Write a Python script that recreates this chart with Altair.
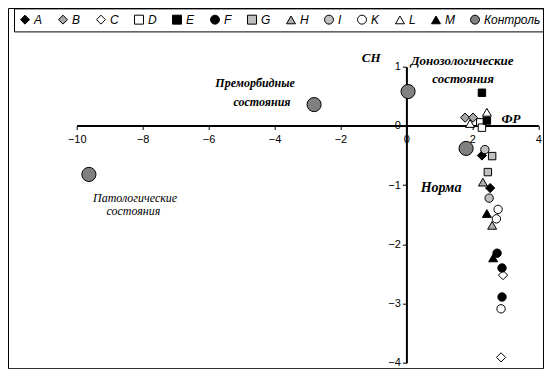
import altair as alt
import pandas as pd

# ---- data ----
series = ["A", "B", "C", "D", "E", "F", "G", "H", "I", "K", "L", "M", "Контроль"]
fr = [
    [2.29, 2.54],          # A
    [1.78, 2.02],          # B
    [2.93, 2.87],          # C
    [2.24, 2.29],          # D
    [2.29, 2.44],          # E
    [2.75, 2.90, 2.90],    # F
    [2.60, 2.47],          # G
    [2.32, 2.60],          # H
    [2.38, 2.51],          # I
    [2.78, 2.73, 2.87],    # K
    [1.93, 2.44],          # L
    [2.44, 2.63],          # M
    [-9.63, -2.80, 0.05, 1.81],  # Контроль
]
ch = [
    [-0.50, -1.05],
    [0.14, 0.14],
    [-2.52, -3.91],
    [0.06, -0.03],
    [0.56, 0.09],
    [-2.15, -2.40, -2.89],
    [-0.51, -0.78],
    [-0.95, -1.68],
    [-0.40, -1.22],
    [-1.41, -1.57, -3.09],
    [0.04, 0.23],
    [-1.48, -2.23],
    [-0.82, 0.36, 0.58, -0.38],
]
x_ticks = [-10, -8, -6, -4, -2, 0, 2, 4]
y_ticks = [-4, -3, -2, -1, 0, 1]

bold_text = ["СН", "Донозологические", "состояния", "ФР", "Преморбидные", "состояния", "Норма"]
bold_x = [-1.07, 1.69, 1.72, 3.17, -4.59, -4.38, 1.05]
bold_y = [1.155, 1.10, 0.80, 0.11, 0.72, 0.40, -1.05]
bold_size = [13, 13, 13, 13, 12, 12, 14]

plain_text = ["Патологические", "состояния"]
plain_x = [-8.23, -8.28]
plain_y = [-1.21, -1.44]
plain_size = [12, 12]

# ---- styles ----
fills = ["#000000", "#a6a6a6", "#ffffff", "#ffffff", "#000000", "#000000", "#c0c0c0",
         "#b0b0b0", "#c0c0c0", "#ffffff", "#ffffff", "#000000", "#808080"]
strokes = ["#000000"] * len(series)
shapes = ["diamond", "diamond", "diamond", "square", "square", "circle", "square",
          "triangle-up", "circle", "circle", "triangle-up", "triangle-up", "circle"]
sizes = [85, 85, 85, 55, 55, 70, 55, 80, 70, 70, 80, 80, 200]

rows = []
for s, xs, ys, sz in zip(series, fr, ch, sizes):
    for xv, yv in zip(xs, ys):
        rows.append({"series": s, "fr": xv, "ch": yv, "sz": sz})
df = pd.DataFrame(rows)

bold_df = pd.DataFrame({"t": bold_text, "x": bold_x, "y": bold_y, "s": bold_size})
plain_df = pd.DataFrame({"t": plain_text, "x": plain_x, "y": plain_y, "s": plain_size})

W, H = 461.6, 296
xsc = alt.Scale(domain=[-10, 4], nice=False, zero=False)
ysc = alt.Scale(domain=[-4, 1], nice=False, zero=False)

axis_common = dict(grid=False, title=None, domainColor="black", domainWidth=2,
                   tickColor="black", tickWidth=1, tickSize=4, labelColor="black",
                   labelFont="Liberation Sans", labelFontSize=11, labelFlush=False,
                   labelOverlap=False, format="d")
x_axis = alt.Axis(values=x_ticks, offset=-(H - 58.8), labelPadding=4, **axis_common)
y_axis = alt.Axis(values=y_ticks, offset=-329.7, labelPadding=2, **axis_common)

legend = alt.Legend(orient="none", legendX=-62.7, legendY=-58.3, direction="horizontal",
                    columns=13, title=None, strokeColor="black", padding=5,
                    symbolStrokeColor="black", symbolStrokeWidth=1, symbolSize=80,
                    labelFont="Liberation Sans", labelFontStyle="italic",
                    labelFontSize=12, labelColor="black", columnPadding=13,
                    labelOffset=3, symbolOpacity=1)

points = alt.Chart(df).mark_point(filled=True, strokeWidth=1, opacity=1).encode(
    x=alt.X("fr:Q", scale=xsc, axis=x_axis),
    y=alt.Y("ch:Q", scale=ysc, axis=y_axis),
    fill=alt.Fill("series:N", scale=alt.Scale(domain=series, range=fills), legend=legend),
    stroke=alt.Stroke("series:N", scale=alt.Scale(domain=series, range=strokes), legend=legend),
    shape=alt.Shape("series:N", scale=alt.Scale(domain=series, range=shapes), legend=legend),
    size=alt.Size("sz:Q", scale=None),
)

bold_texts = alt.Chart(bold_df).mark_text(font="Liberation Serif", fontStyle="italic",
                                          fontWeight="bold", color="black",
                                          align="center", baseline="middle").encode(
    x="x:Q", y="y:Q", text="t:N", size=alt.Size("s:Q", scale=None),
)
plain_texts = alt.Chart(plain_df).mark_text(font="Liberation Serif", fontStyle="italic",
                                            color="black", align="center",
                                            baseline="middle").encode(
    x="x:Q", y="y:Q", text="t:N", size=alt.Size("s:Q", scale=None),
)

border = alt.Chart(pd.DataFrame({"a": [0]})).mark_rect(
    fillOpacity=0, stroke="black", strokeWidth=1).encode(
    x=alt.value(-68.2), x2=alt.value(W + 5.2), y=alt.value(-58.2), y2=alt.value(H + 6.0)
)

chart = alt.layer(border, points, bold_texts, plain_texts).properties(
    width=W, height=H, autosize="none",
    padding={"left": 68.7, "top": 58.7, "right": 5.7, "bottom": 6.6},
).configure_view(stroke=None)

chart.save("out.html", embed_options={"renderer": "svg", "actions": False})
